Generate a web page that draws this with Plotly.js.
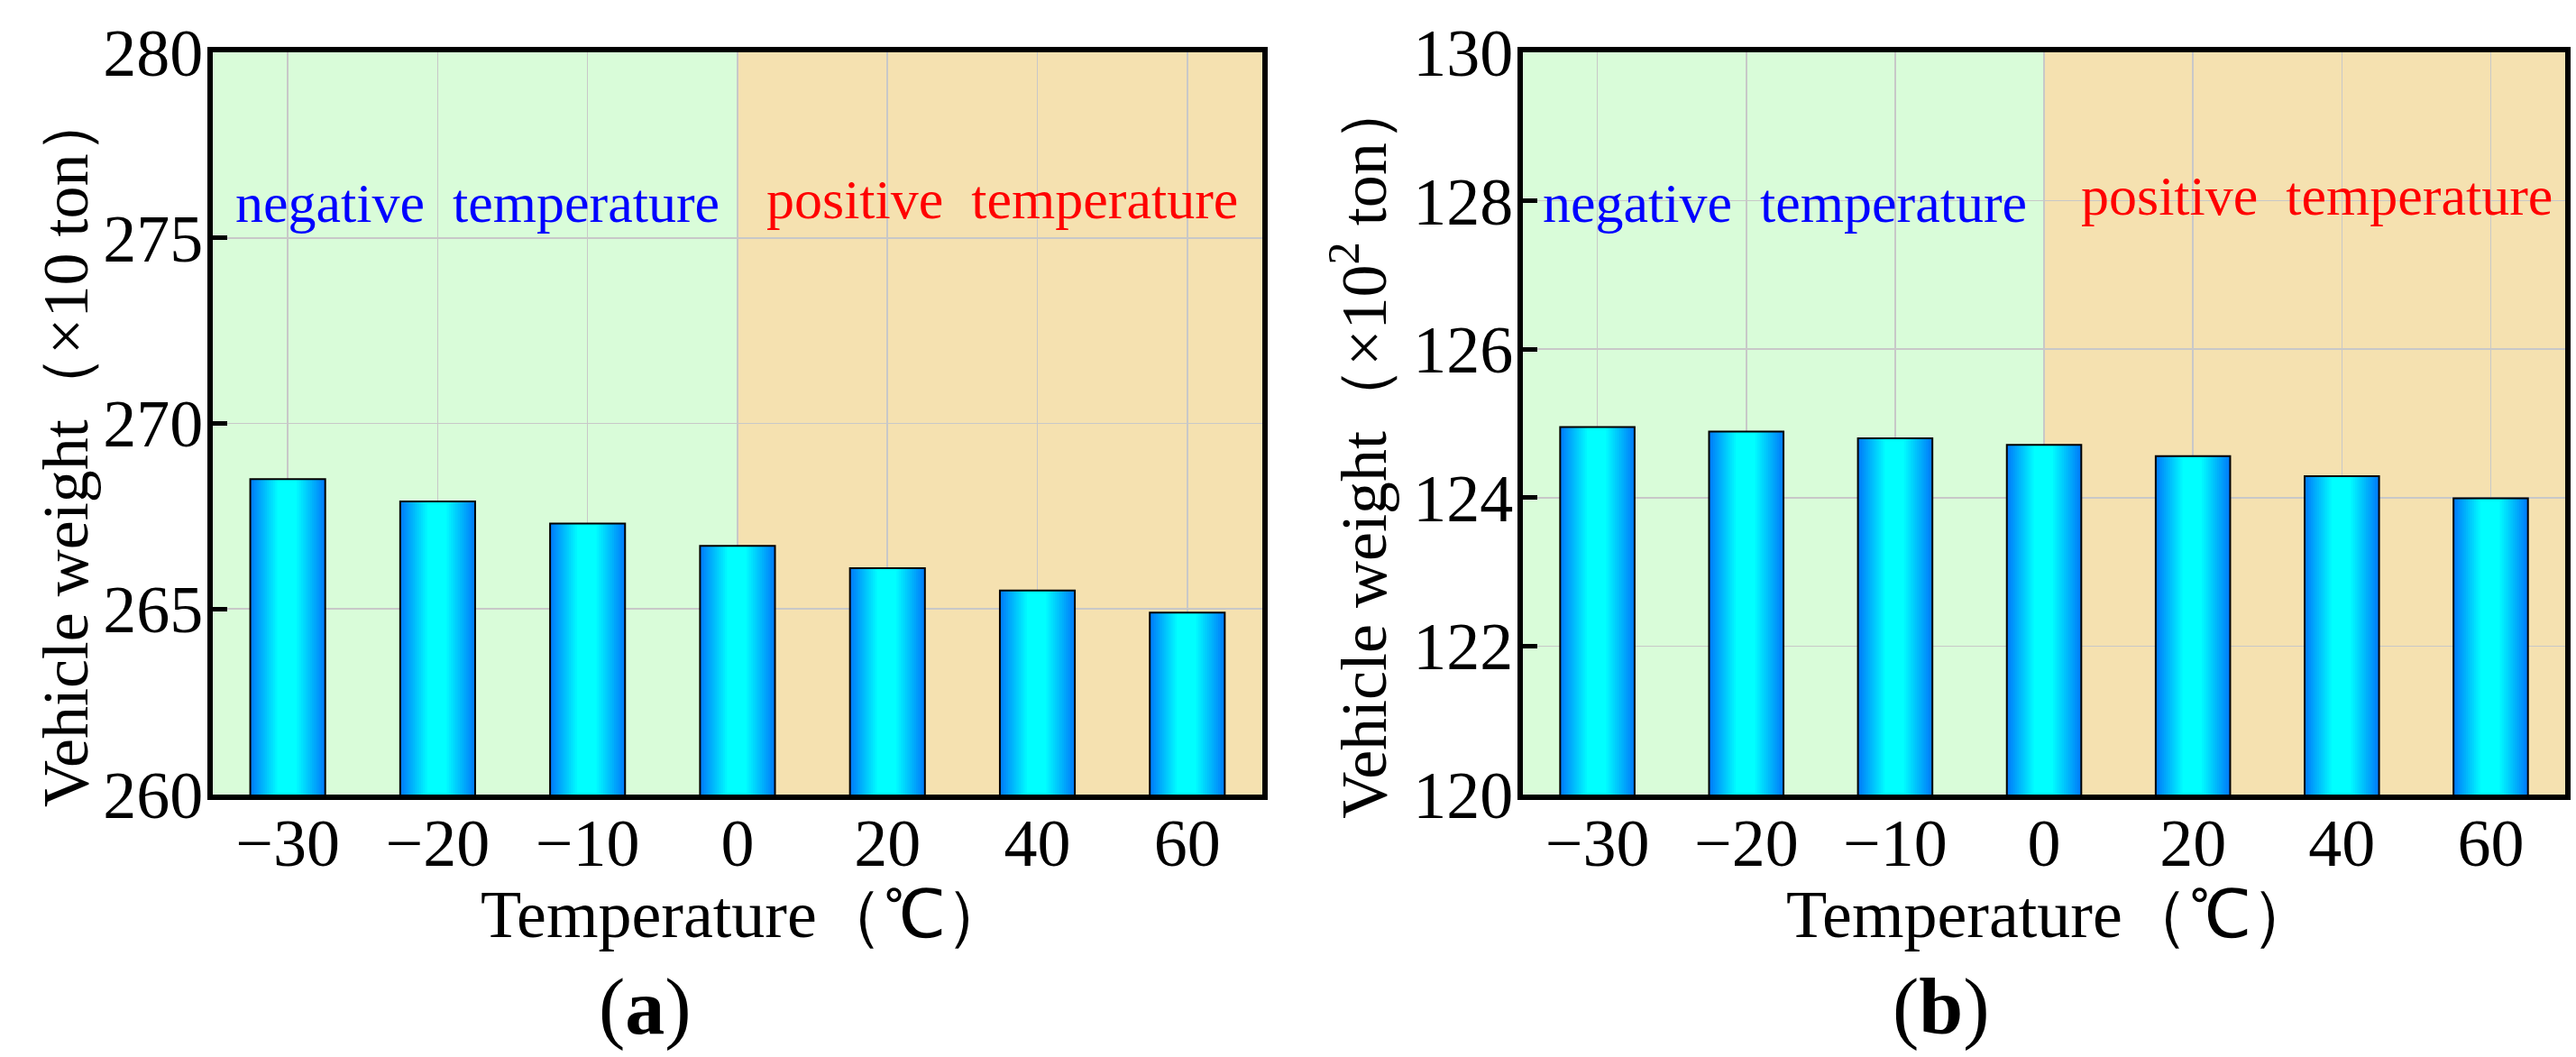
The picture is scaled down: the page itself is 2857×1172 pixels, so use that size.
<!DOCTYPE html>
<html>
<head>
<meta charset="utf-8">
<script src="https://cdn.plot.ly/plotly-3.0.1.min.js"></script>
<style>
  body { margin: 0; background: #fff; }
  #chart { width: 2857px; height: 1172px; }
</style>
</head>
<body>
<div id="chart"></div>
<script>
// data
var temperatures = ['\u221230', '\u221220', '\u221210', '0', '20', '40', '60'];
var weightA = [268.5, 267.9, 267.3, 266.7, 266.1, 265.5, 264.9];   // x10 ton
var weightB = [124.95, 124.89, 124.80, 124.71, 124.56, 124.29, 123.99]; // x10^2 ton
var tickA = [260, 265, 270, 275, 280];
var tickB = [120, 122, 124, 126, 128, 130];

var serif = 'Liberation Serif, Times New Roman, serif';

// fake the horizontal blue->cyan->blue gradient with nested bars
function mix(a, b, t) {
  var r = Math.round(a[0] + (b[0] - a[0]) * t);
  var g = Math.round(a[1] + (b[1] - a[1]) * t);
  var bl = Math.round(a[2] + (b[2] - a[2]) * t);
  return 'rgb(' + r + ',' + g + ',' + bl + ')';
}

function gradientBars(y, xa, ya) {
  var traces = [];
  var n = 14, barW = 0.5;
  var edge = [0, 125, 250], mid = [0, 255, 255];
  for (var k = 0; k < n; k++) {
    var t = k / (n - 1);
    var left = 0.36 * t, right = 1 - 0.38 * t;
    traces.push({
      type: 'bar',
      x: temperatures,
      y: y,
      xaxis: xa, yaxis: ya,
      offset: -barW / 2 + left * barW,
      width: (right - left) * barW,
      marker: { color: mix(edge, mid, t), line: { width: 0 } },
      hoverinfo: 'skip',
      showlegend: false
    });
  }
  // outline on top
  traces.push({
    type: 'bar',
    x: temperatures,
    y: y,
    xaxis: xa, yaxis: ya,
    offset: -barW / 2,
    width: barW,
    marker: { color: 'rgba(0,0,0,0)', line: { color: '#000', width: 2 } },
    showlegend: false
  });
  return traces;
}

var data = gradientBars(weightA, 'x', 'y').concat(gradientBars(weightB, 'x2', 'y2'));

function xAxis(domain, anchor) {
  return {
    domain: domain,
    anchor: anchor,
    type: 'category',
    showline: true, linecolor: '#000', linewidth: 6, mirror: true,
    showgrid: true, gridcolor: '#c8c8c8', gridwidth: 1.5,
    ticks: '',
    tickfont: { family: serif, size: 74, color: '#000' },
    ticklabelstandoff: -16,
    fixedrange: true
  };
}

function yAxis(domain, anchor, range, ticks) {
  return {
    domain: domain,
    anchor: anchor,
    range: range,
    tickvals: ticks,
    showline: true, linecolor: '#000', linewidth: 6, mirror: true,
    showgrid: true, gridcolor: '#c8c8c8', gridwidth: 1.5,
    zeroline: false,
    ticks: 'inside', ticklen: 16, tickwidth: 5, tickcolor: '#000',
    tickfont: { family: serif, size: 74, color: '#000' },
    ticklabelstandoff: -10,
    fixedrange: true
  };
}

var yDom = [0.2483, 0.9505];

function shade(xref, x0, x1, color) {
  return {
    type: 'rect', xref: xref, yref: xref.replace('x', 'y') + ' domain',
    x0: x0, x1: x1, y0: 0, y1: 1,
    fillcolor: color, line: { width: 0 }, layer: 'below'
  };
}

function note(text, x, y, color, size, angle) {
  return {
    xref: 'paper', yref: 'paper', x: x, y: y,
    text: text, showarrow: false,
    xanchor: 'center', yanchor: 'middle',
    textangle: angle || 0,
    font: { family: serif, size: size, color: color }
  };
}

var layout = {
  width: 2857,
  height: 1172,
  margin: { l: 0, r: 0, t: 0, b: 0 },
  paper_bgcolor: '#fff',
  plot_bgcolor: '#fff',
  barmode: 'overlay',
  showlegend: false,
  xaxis: xAxis([0.0826, 0.4900], 'y'),
  yaxis: yAxis(yDom, 'x', [260, 280], tickA),
  xaxis2: xAxis([0.5912, 0.9958], 'y2'),
  yaxis2: yAxis(yDom, 'x2', [120, 130], tickB),
  shapes: [
    shade('x', -0.5, 3, '#d9fcd9'),
    shade('x', 3, 6.5, '#f5e1b0'),
    shade('x2', -0.5, 3, '#d9fcd9'),
    shade('x2', 3, 6.5, '#f5e1b0')
  ],
  annotations: [
    note('negative\u00a0\u00a0temperature', 0.1852, 0.808, '#0000ff', 62),
    note('positive\u00a0\u00a0temperature', 0.3889, 0.8114, '#ff0000', 62),
    note('negative\u00a0\u00a0temperature', 0.6927, 0.808, '#0000ff', 62),
    note('positive\u00a0\u00a0temperature', 0.8992, 0.8149, '#ff0000', 62),
    note('Vehicle weight\uff08\u00d710 ton\uff09', 0.0256, 0.576, '#000', 72, -90),
    note('Vehicle weight\uff08\u00d710<sup>2</sup> ton\uff09', 0.5278, 0.576, '#000', 72, -90),
    note('Temperature\uff08\u2103\uff09', 0.2898, 0.135, '#000', 74),
    note('Temperature\uff08\u2103\uff09', 0.7966, 0.135, '#000', 74),
    note('(<b>a</b>)', 0.2503, 0.047, '#000', 88),
    note('(<b>b</b>)', 0.7536, 0.047, '#000', 88)
  ]
};

Plotly.newPlot('chart', data, layout, { displayModeBar: false, staticPlot: true });
</script>
</body>
</html>
